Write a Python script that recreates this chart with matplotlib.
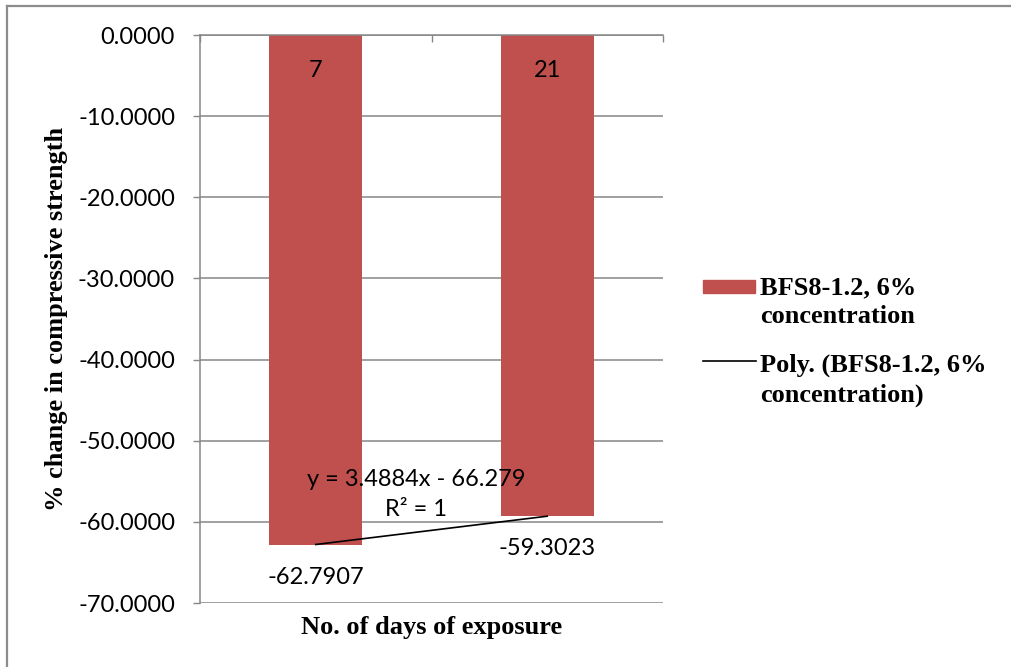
import numpy as np
import matplotlib
matplotlib.use("Agg")
import matplotlib.pyplot as plt
from matplotlib.patches import Rectangle
from matplotlib.lines import Line2D
from matplotlib.transforms import blended_transform_factory

# Data
days = ["7", "21"]
pct_change = [-62.7907, -59.3023]
series_label = "BFS8-1.2, 6%\nconcentration"
trend_label = "Poly. (BFS8-1.2, 6%\nconcentration)"
y_ticks = [0, -10, -20, -30, -40, -50, -60, -70]

BAR_COLOR = "#C0504D"
GRID_COLOR = "#868686"
SANS = "Lato"
SERIF = "Liberation Serif"
SANS_SIZE = 17

W, H = 1011, 667
fig = plt.figure(figsize=(W / 100, H / 100), dpi=100)
fig.patch.set_facecolor("white")


def fx(px):
    return px / W


def fy(py):
    return 1 - py / H


# Chart-area border (top and left edges)
fig.add_artist(Line2D([fx(7), fx(W)], [fy(6), fy(6)], color="#8c8c8c", lw=1.6, transform=fig.transFigure))
fig.add_artist(Line2D([fx(7), fx(7)], [fy(6), fy(H)], color="#8c8c8c", lw=1.6, transform=fig.transFigure))

ax = fig.add_axes([fx(200), fy(603), fx(663) - fx(200), fy(35) - fy(603)])
x = np.arange(len(days))
ax.bar(x, pct_change, width=0.4, color=BAR_COLOR, zorder=2)

ax.set_xlim(-0.5, 1.5)
ax.set_ylim(-70, 0)

# Y axis
ax.set_yticks(y_ticks)
ax.set_yticklabels([f"{abs(v):.4f}" if v == 0 else f"{v:.4f}" for v in y_ticks],
                   fontfamily=SANS, fontsize=SANS_SIZE)
ax.tick_params(axis="y", direction="out", length=5, width=1.0, color=GRID_COLOR, pad=13)
ax.yaxis.grid(True, color=GRID_COLOR, lw=1.1, zorder=0)
ax.set_axisbelow(True)

# Category axis sits at y = 0 (top), with boundary ticks pointing down
ax.set_xticks([-0.5, 0.5, 1.5])
ax.set_xticklabels([])
ax.tick_params(axis="x", top=True, bottom=False, labeltop=False, labelbottom=False,
               direction="in", length=5, width=1.0, color=GRID_COLOR)
tr = blended_transform_factory(ax.transData, ax.transAxes)
for xi, d in zip(x, days):
    ax.text(xi, 0.938, d, transform=tr, ha="center", va="center",
            fontfamily=SANS, fontsize=SANS_SIZE, color="black", zorder=3)

for side in ["right", "bottom"]:
    ax.spines[side].set_visible(False)
for side in ["left", "top"]:
    ax.spines[side].set_color(GRID_COLOR)
    ax.spines[side].set_linewidth(1.1)

# Value labels under bars
for xi, v in zip(x, pct_change):
    ax.annotate(f"{v:.4f}", (xi, v), xytext=(0, -23.5), textcoords="offset points",
                ha="center", va="center", fontfamily=SANS, fontsize=SANS_SIZE, zorder=3)

# Linear trendline over category index (1, 2)
idx = np.arange(1, len(pct_change) + 1)
slope, intercept = np.polyfit(idx, pct_change, 1)
ax.plot(x, slope * idx + intercept, color="black", lw=1.2, zorder=3)
eq = f"y = {slope:.4f}x - {abs(intercept):.3f}\nR² = 1"
ax.text(0.435, -56.6, eq, ha="center", va="center", fontfamily=SANS, fontsize=SANS_SIZE,
        linespacing=1.5, zorder=4)

# Axis titles
ax.set_ylabel("% change in compressive strength", fontfamily=SERIF, fontweight="bold",
              fontsize=19, va="center")
ax.yaxis.set_label_coords(-0.309, 0.5)
ax.set_xlabel("No. of days of exposure", fontfamily=SERIF, fontweight="bold",
              fontsize=19, va="center")
ax.xaxis.set_label_coords(0.5, -0.044)

# Legend
fig.add_artist(Rectangle((fx(703), fy(293)), fx(755) - fx(703), fy(280) - fy(293),
                         color=BAR_COLOR, transform=fig.transFigure))
fig.add_artist(Line2D([fx(703), fx(756)], [fy(361), fy(361)], color="black", lw=1.2,
                      transform=fig.transFigure))
fig.text(fx(760), fy(276), series_label, ha="left", va="top", fontfamily=SERIF,
         fontweight="bold", fontsize=19, linespacing=1.33)
fig.text(fx(760), fy(354), trend_label, ha="left", va="top", fontfamily=SERIF,
         fontweight="bold", fontsize=19, linespacing=1.33)

fig.savefig("out.png", dpi=100)
